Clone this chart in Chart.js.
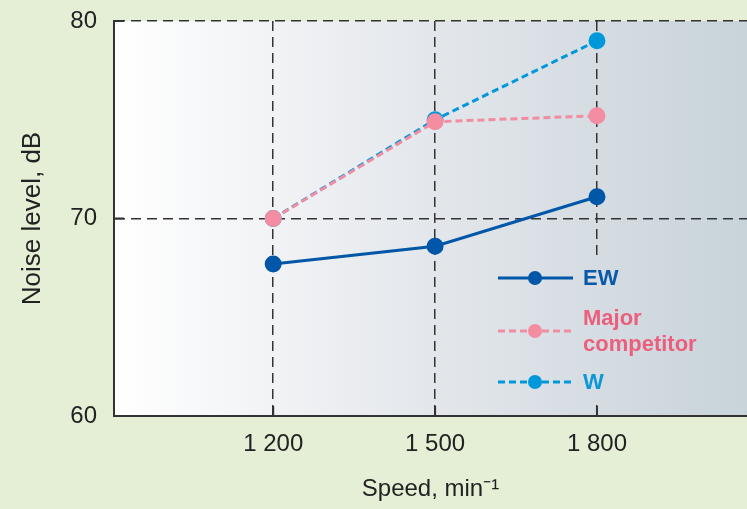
<!DOCTYPE html>
<html>
<head>
<meta charset="utf-8">
<script src="https://cdn.jsdelivr.net/npm/chart.js@4.4.1/dist/chart.umd.min.js"></script>
<style>
  html, body { margin: 0; padding: 0; background: #e5efd6; overflow: hidden; }
  canvas { display: block; }
</style>
</head>
<body>
<canvas id="noiseChart" width="747" height="509" style="width:747px;height:509px"></canvas>
<script>
'use strict';

// values
const speeds = [1200, 1500, 1800];
const speedLabels = ['1 200', '1 500', '1 800'];
const noiseTicks = [60, 70, 80];
const ewNoise = [67.7, 68.6, 71.1];
const competitorNoise = [70.0, 74.9, 75.2];
const wNoise = [70.0, 75.0, 79.0];
const seriesNames = ['EW', 'Major competitor', 'W'];
const legendLines = [['EW'], ['Major', 'competitor'], ['W']];

const FONT = '"Liberation Sans", Arial, Helvetica, sans-serif';
const textColors = ['#0a59a8', '#ec5f7c', '#0e97d8'];
const gridDash = [10, 6];

function points(values) {
  return speeds.map((s, i) => ({ x: s, y: values[i] }));
}

function plotGradient(ctx, a) {
  const g = ctx.createLinearGradient(a.left, 0, a.right, 0);
  g.addColorStop(0, '#ffffff');
  g.addColorStop(0.45, '#e6e9ed');
  g.addColorStop(1, '#c8d3da');
  return g;
}

const plotBackground = {
  id: 'plotBackground',
  beforeDraw(chart) {
    const { ctx, chartArea: a } = chart;
    ctx.save();
    ctx.fillStyle = plotGradient(ctx, a);
    ctx.fillRect(a.left, a.top, a.right - a.left, a.bottom - a.top);
    ctx.restore();
  }
};

// short solid ticks pointing into the plot
const innerTicks = {
  id: 'innerTicks',
  beforeDatasetsDraw(chart) {
    const { ctx, scales: { x, y }, chartArea: a } = chart;
    ctx.save();
    ctx.strokeStyle = '#333';
    ctx.lineWidth = 2;
    ctx.beginPath();
    speeds.forEach(v => {
      const px = x.getPixelForValue(v);
      ctx.moveTo(px, a.bottom);
      ctx.lineTo(px, a.bottom - 10);
    });
    noiseTicks.forEach(v => {
      const py = y.getPixelForValue(v);
      ctx.moveTo(a.left, py);
      ctx.lineTo(a.left + 10, py);
    });
    ctx.stroke();
    ctx.restore();
  }
};

const insideLegend = {
  id: 'insideLegend',
  afterDraw(chart) {
    const { ctx, chartArea: a } = chart;
    ctx.save();
    ctx.fillStyle = plotGradient(ctx, a);
    ctx.fillRect(488, 257, 240, 147);

    const rowY = [278, 331, 382];
    const textY = [[279], [319, 345], [383]];
    chart.data.datasets.forEach((ds, i) => {
      ctx.strokeStyle = ds.borderColor;
      ctx.lineWidth = ds.borderWidth;
      ctx.setLineDash(ds.borderDash || []);
      ctx.beginPath();
      ctx.moveTo(498, rowY[i]);
      ctx.lineTo(573, rowY[i]);
      ctx.stroke();
      ctx.setLineDash([]);
      ctx.fillStyle = ds.pointBackgroundColor;
      ctx.beginPath();
      ctx.arc(535, rowY[i], 7, 0, Math.PI * 2);
      ctx.fill();

      ctx.fillStyle = textColors[i];
      ctx.font = 'bold 22px ' + FONT;
      ctx.textBaseline = 'middle';
      ctx.textAlign = 'left';
      legendLines[i].forEach((t, j) => ctx.fillText(t, 583, textY[i][j]));
    });
    ctx.restore();
  }
};

new Chart(document.getElementById('noiseChart'), {
  type: 'line',
  data: {
    datasets: [
      {
        label: seriesNames[0],
        data: points(ewNoise),
        borderColor: '#0057a8',
        pointBackgroundColor: '#0057a8',
        pointBorderColor: '#0057a8',
        borderWidth: 3,
        pointRadius: 7,
      },
      {
        label: seriesNames[1],
        data: points(competitorNoise),
        borderColor: '#f28ca1',
        pointBackgroundColor: '#f48da2',
        pointBorderColor: '#f48da2',
        borderWidth: 3,
        borderDash: [7, 4],
        pointRadius: 7,
      },
      {
        label: seriesNames[2],
        data: points(wNoise),
        borderColor: '#0098db',
        pointBackgroundColor: '#0098db',
        pointBorderColor: '#0098db',
        borderWidth: 3,
        borderDash: [7, 4],
        pointRadius: 7,
      },
    ]
  },
  options: {
    responsive: false,
    animation: false,
    devicePixelRatio: 1,
    layout: { autoPadding: false, padding: { top: 21, right: 0, left: 0, bottom: 0 } },
    plugins: { legend: { display: false }, tooltip: { enabled: false } },
    scales: {
      x: {
        type: 'linear',
        min: 905,
        max: 2078,
        afterBuildTicks: scale => { scale.ticks = speeds.map(v => ({ value: v })); },
        afterFit: scale => {
          scale.height = 93;
          scale.paddingLeft = 0;
          scale.paddingRight = 0;
        },
        ticks: {
          callback: (v) => speedLabels[speeds.indexOf(v)],
          color: '#222',
          font: { family: FONT, size: 24 },
          padding: 14,
          maxRotation: 0,
        },
        grid: {
          color: '#333',
          lineWidth: 1.5,
          drawTicks: false,
        },
        border: { display: true, color: '#333', width: 2, dash: gridDash },
        title: {
          display: true,
          text: 'Speed, min⁻¹',
          color: '#222',
          font: { family: FONT, size: 24 },
          padding: { top: 0, bottom: 5 },
        },
      },
      y: {
        min: 60,
        max: 80,
        afterBuildTicks: scale => { scale.ticks = noiseTicks.map(v => ({ value: v })); },
        afterFit: scale => {
          scale.width = 114;
          scale.paddingTop = 0;
          scale.paddingBottom = 0;
        },
        ticks: {
          color: '#222',
          font: { family: FONT, size: 24 },
          padding: 17,
        },
        grid: {
          color: ctx => ctx.tick && ctx.tick.value === 60 ? 'rgba(0,0,0,0)' : '#333',
          lineWidth: 1.5,
          drawTicks: false,
        },
        border: { display: true, color: '#333', width: 2, dash: gridDash },
        title: {
          display: true,
          text: 'Noise level, dB',
          color: '#222',
          font: { family: FONT, size: 26 },
          padding: { top: 17, bottom: 0 },
        },
      },
    },
  },
  plugins: [plotBackground, innerTicks, insideLegend],
});
</script>
</body>
</html>
